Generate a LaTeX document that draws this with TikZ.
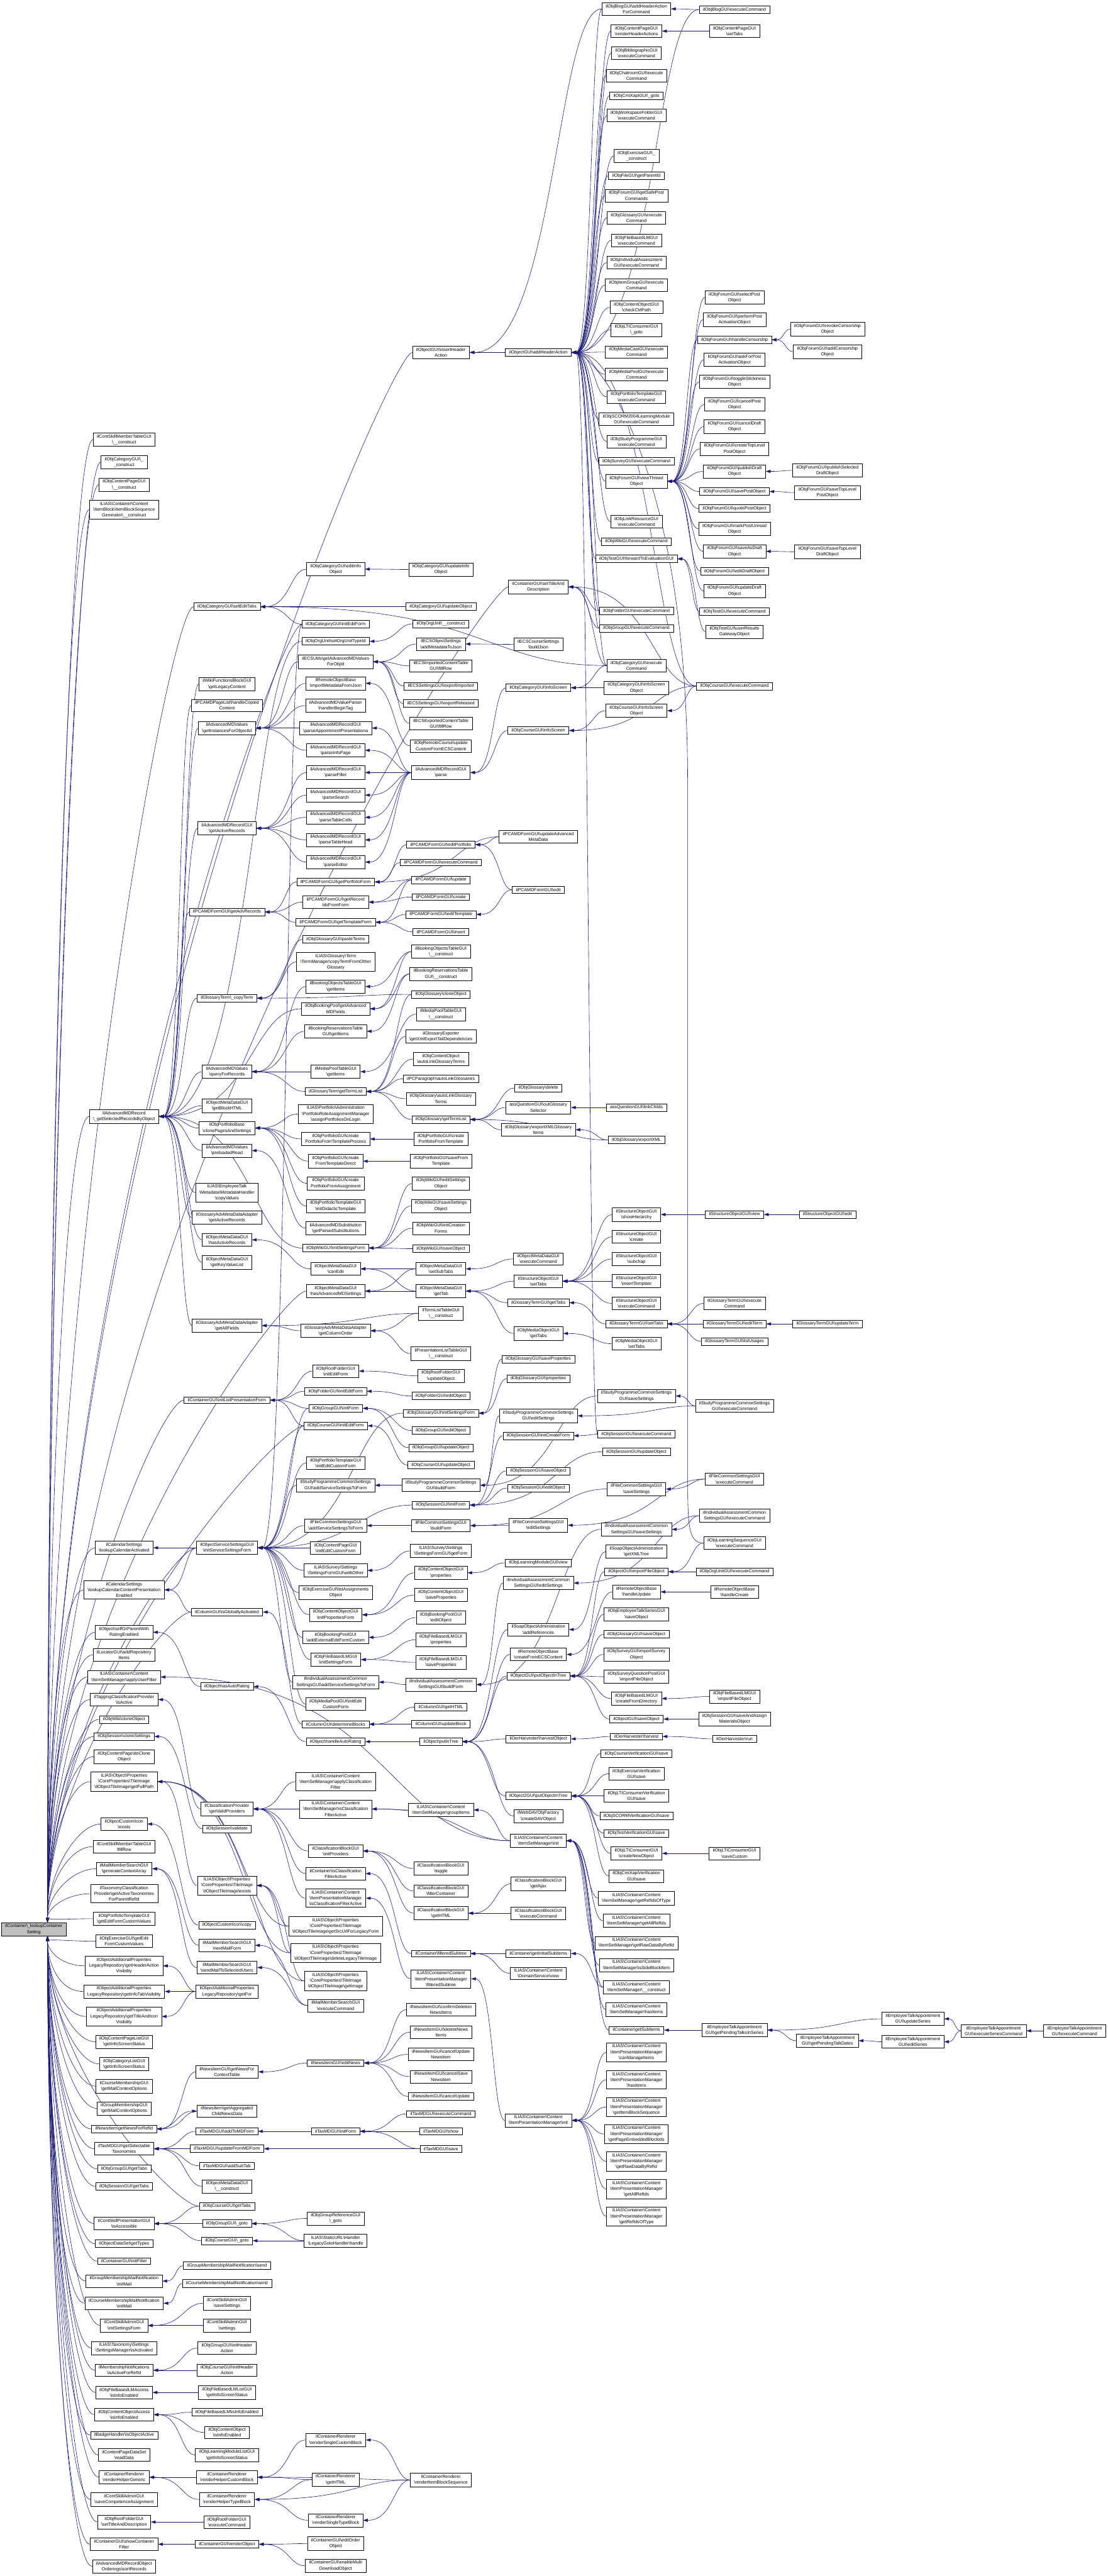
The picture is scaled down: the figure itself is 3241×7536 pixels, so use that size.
\documentclass[tikz,border=0pt]{standalone}
\usepackage{fontspec}
\setmainfont{Liberation Sans}
\usetikzlibrary{arrows.meta,calc}
\definecolor{mblue}{HTML}{191970}
\definecolor{rootgray}{HTML}{BFBFBF}
\newcommand\bsl{\textbackslash}
\newcommand\Nd[4]{\node[fn] (#1) at (#2,#3) {#4};}
\newcommand\Ed[2]{\draw[cedge] let \p1=(#1.west),\p2=(#2.east) in (\p1) .. controls ({0.65*\x1+0.35*\x2},\y1) and ({0.65*\x1+0.35*\x2},\y2) .. (\p2);}
\newcommand\Eu[1]{\draw[cedge] let \p1=(#1.west),\p2=(root.north) in (\p1) .. controls ({\x1-70pt},\y1) and ({\x2+40pt},{0.5*\y1+0.5*\y2}) .. ({\x2+40pt},\y2);}
\newcommand\Edn[1]{\draw[cedge] let \p1=(#1.west),\p2=(root.south) in (\p1) .. controls ({\x1-70pt},\y1) and ({\x2+40pt},{0.5*\y1+0.5*\y2}) .. ({\x2+40pt},\y2);}
\pgfdeclarelayer{bg}
\pgfdeclarelayer{edges}
\pgfsetlayers{bg,edges,main}
\tikzset{
  fn/.style={draw=black, line width=1.1pt, fill=white, align=center, inner xsep=11pt, inner ysep=5pt, font=\fontsize{13}{17}\selectfont},
  cedge/.style={draw=mblue, line width=1.1pt, -{Triangle[length=14pt,width=9pt]}}
}
\begin{document}
\begin{tikzpicture}[x=1pt,y=-1pt]
\begin{pgfonlayer}{bg}
\fill[white] (0,0) rectangle (3241,7536);
\end{pgfonlayer}
\useasboundingbox (0,0) rectangle (3241,7536);
% root
\node[fn,fill=rootgray] (root) at (99,5644) {ilContainer\bsl\_lookupContainer\\Setting};
% column A
\Nd{a1}{363}{1286}{ilContSkillMemberTableGUI\\\bsl\_\_construct}
\Nd{a2}{363}{1352}{ilObjCategoryGUI\bsl\_\\\_construct}
\Nd{a3}{363}{1418}{ilObjContentPageGUI\\\bsl\_\_construct}
\Nd{a4}{363}{1491}{ILIAS\bsl Container\bsl Content\\\bsl ItemBlock\bsl ItemBlockSequence\\Generator\bsl\_\_construct}
\Nd{a5}{363}{3266}{ilAdvancedMDRecord\\\bsl\_getSelectedRecordsByObject}
\Nd{a6}{363}{4528}{ilCalendarSettings\\\bsl lookupCalendarActivated}
\Nd{a7}{363}{4651}{ilCalendarSettings\\\bsl lookupCalendarContentPresentation\\Enabled}
\Nd{a8}{363}{4775}{ilObject\bsl selfOrParentWith\\RatingEnabled}
\Nd{a9}{363}{4841}{ilLocatorGUI\bsl addRepository\\Items}
\Nd{a10}{363}{4906}{ILIAS\bsl Container\bsl Content\\\bsl ItemSetManager\bsl applyUserFilter}
\Nd{a11}{363}{4972}{ilTaggingClassificationProvider\\\bsl isActive}
\Nd{a12}{363}{5030}{ilObjWiki\bsl cloneObject}
\Nd{a13}{363}{5080}{ilObjSession\bsl cloneSettings}
\Nd{a14}{363}{5139}{ilObjContentPage\bsl doClone\\Object}
\Nd{a15}{363}{5212}{ILIAS\bsl Object\bsl Properties\\\bsl CoreProperties\bsl TileImage\\\bsl ilObjectTileImage\bsl getFullPath}
\Nd{a16}{363}{5336}{ilObjectCustomIcon\\\bsl exists}
\Nd{a17}{363}{5402}{ilContSkillMemberTableGUI\\\bsl fillRow}
\Nd{a18}{363}{5467}{ilMailMemberSearchGUI\\\bsl generateContextArray}
\Nd{a19}{363}{5540}{ilTaxonomyClassification\\Provider\bsl getActiveTaxonomies\\ForParentRefId}
\Nd{a20}{363}{5613}{ilObjPortfolioTemplateGUI\\\bsl getEditFormCustomValues}
\Nd{a21}{363}{5679}{ilObjExerciseGUI\bsl getEdit\\FormCustomValues}
\Nd{a22}{363}{5751}{ilObjectAdditionalProperties\\LegacyRepository\bsl getHeaderAction\\Visibility}
\Nd{a23}{363}{5826}{ilObjectAdditionalProperties\\LegacyRepository\bsl getInfoTabVisibility}
\Nd{a24}{363}{5899}{ilObjectAdditionalProperties\\LegacyRepository\bsl getTitleAndIcon\\Visibility}
\Nd{a25}{363}{5973}{ilObjContentPageListGUI\\\bsl getInfoScreenStatus}
\Nd{a26}{363}{6038}{ilObjCategoryListGUI\\\bsl getInfoScreenStatus}
\Nd{a27}{363}{6103}{ilCourseMembershipGUI\\\bsl getMailContextOptions}
\Nd{a28}{363}{6168}{ilGroupMembershipGUI\\\bsl getMailContextOptions}
\Nd{a29}{363}{6228}{ilNewsItem\bsl getNewsForRefId}
\Nd{a30}{363}{6286}{ilTaxMDGUI\bsl getSelectable\\Taxonomies}
\Nd{a31}{363}{6345}{ilObjGroupGUI\bsl getTabs}
\Nd{a32}{363}{6396}{ilObjSessionGUI\bsl getTabs}
\Nd{a33}{363}{6505}{ilContSkillPresentationGUI\\\bsl isAccessible}
\Nd{a34}{363}{6564}{ilObjectDataSet\bsl getTypes}
\Nd{a35}{363}{6615}{ilContainerGUI\bsl initFilter}
\Nd{a36}{363}{6673}{ilGroupMembershipMailNotification\\\bsl initMail}
\Nd{a37}{363}{6738}{ilCourseMembershipMailNotification\\\bsl initMail}
\Nd{a38}{363}{6803}{ilContSkillAdminGUI\\\bsl initSettingsForm}
\Nd{a39}{363}{6869}{ILIAS\bsl Taxonomy\bsl Settings\\\bsl SettingsManager\bsl isActivated}
\Nd{a40}{363}{6934}{ilMembershipNotifications\\\bsl isActiveForRefId}
\Nd{a41}{363}{6999}{ilObjFileBasedLMAccess\\\bsl isInfoEnabled}
\Nd{a42}{363}{7064}{ilObjContentObjectAccess\\\bsl isInfoEnabled}
\Nd{a43}{363}{7124}{ilBadgeHandler\bsl isObjectActive}
\Nd{a44}{363}{7182}{ilContentPageDataSet\\\bsl readData}
\Nd{a45}{363}{7247}{ilContainerRenderer\\\bsl renderHelperGeneric}
\Nd{a46}{363}{7312}{ilContSkillAdminGUI\\\bsl saveCompetenceAssignment}
\Nd{a47}{363}{7378}{ilObjRootFolderGUI\\\bsl setTitleAndDescription}
\Nd{a48}{363}{7443}{ilContainerGUI\bsl showContainer\\Filter}
\Nd{a49}{363}{7508}{ilAdvancedMDRecordObject\\Orderings\bsl sortRecords}
% column B
\Nd{b1}{664}{1775}{ilObjCategoryGUI\bsl setEditTabs}
\Nd{b2}{664}{2001}{ilWikiFunctionsBlockGUI\\\bsl getLegacyContent}
\Nd{b3}{664}{2064}{ilPCAMDPageList\bsl handleCopied\\Content}
\Nd{b4}{664}{2130}{ilAdvancedMDValues\\\bsl getInstancesForObjectId}
\Nd{b5}{664}{2423}{ilAdvancedMDRecordGUI\\\bsl getActiveRecords}
\Nd{b6}{664}{2668}{ilPCAMDFormGUI\bsl getAdvRecords}
\Nd{b7}{664}{2920}{ilGlossaryTerm\bsl\_copyTerm}
\Nd{b8}{664}{3135}{ilAdvancedMDValues\\\bsl queryForRecords}
\Nd{b9}{664}{3235}{ilObjectMetaDataGUI\\\bsl getBlockHTML}
\Nd{b10}{664}{3300}{ilObjPortfolioBase\\\bsl clonePagesAndSettings}
\Nd{b11}{664}{3366}{ilAdvancedMDValues\\\bsl preloadedRead}
\Nd{b12}{664}{3489}{ILIAS\bsl EmployeeTalk\\\bsl Metadata\bsl MetadataHandler\\\bsl copyValues}
\Nd{b13}{664}{3562}{ilGlossaryAdvMetaDataAdapter\\\bsl getActiveRecords}
\Nd{b14}{664}{3627}{ilObjectMetaDataGUI\\\bsl hasActiveRecords}
\Nd{b15}{664}{3693}{ilObjectMetaDataGUI\\\bsl getKeyValueList}
\Nd{b16}{664}{3878}{ilGlossaryAdvMetaDataAdapter\\\bsl getAllFields}
\Nd{b17}{664}{4096}{ilContainerGUI\bsl initListPresentationForm}
\Nd{b18}{664}{4528}{ilObjectServiceSettingsGUI\\\bsl initServiceSettingsForm}
\Nd{b19}{664}{4716}{ilColumnGUI\bsl isGloballyActivated}
\Nd{b20}{664}{4934}{ilObject\bsl hasAutoRating}
\Nd{b21}{664}{5292}{ilClassificationProvider\\\bsl getValidProviders}
\Nd{b22}{664}{5350}{ilObjSession\bsl validate}
\Nd{b23}{664}{5516}{ILIAS\bsl Object\bsl Properties\\\bsl CoreProperties\bsl TileImage\\\bsl ilObjectTileImage\bsl exists}
\Nd{b24}{664}{5632}{ilObjectCustomIcon\bsl copy}
\Nd{b25}{664}{5691}{ilMailMemberSearchGUI\\\bsl nextMailForm}
\Nd{b26}{664}{5756}{ilMailMemberSearchGUI\\\bsl sendMailToSelectedUsers}
\Nd{b27}{664}{5826}{ilObjectAdditionalProperties\\LegacyRepository\bsl getFor}
\Nd{b28}{664}{6061}{ilNewsItemGUI\bsl getNewsFor\\ContextTable}
\Nd{b29}{664}{6176}{ilNewsItem\bsl getAggregated\\ChildNewsData}
\Nd{b30}{664}{6235}{ilTaxMDGUI\bsl addToMDForm}
\Nd{b31}{664}{6286}{ilTaxMDGUI\bsl updateFromMDForm}
\Nd{b32}{664}{6336}{ilTaxMDGUI\bsl addSubTab}
\Nd{b33}{664}{6396}{ilObjectMetaDataGUI\\\bsl\_\_construct}
\Nd{b34}{664}{6454}{ilObjCourseGUI\bsl getTabs}
\Nd{b35}{664}{6505}{ilObjGroupGUI\bsl\_goto}
\Nd{b36}{664}{6555}{ilObjCourseGUI\bsl\_goto}
\Nd{b37}{664}{6628}{ilGroupMembershipMailNotification\bsl send}
\Nd{b38}{664}{6680}{ilCourseMembershipMailNotification\bsl send}
\Nd{b39}{664}{6738}{ilContSkillAdminGUI\\\bsl saveSettings}
\Nd{b40}{664}{6803}{ilContSkillAdminGUI\\\bsl settings}
\Nd{b41}{664}{6869}{ilObjGroupGUI\bsl initHeader\\Action}
\Nd{b42}{664}{6934}{ilObjCourseGUI\bsl initHeader\\Action}
\Nd{b43}{664}{6999}{ilObjFileBasedLMListGUI\\\bsl getInfoScreenStatus}
\Nd{b44}{664}{7057}{ilObjFileBasedLM\bsl isInfoEnabled}
\Nd{b45}{664}{7116}{ilObjContentObject\\\bsl isInfoEnabled}
\Nd{b46}{664}{7182}{ilObjLearningModuleListGUI\\\bsl getInfoScreenStatus}
\Nd{b47}{664}{7247}{ilContainerRenderer\\\bsl renderHelperCustomBlock}
\Nd{b48}{664}{7312}{ilContainerRenderer\\\bsl renderHelperTypeBlock}
\Nd{b49}{664}{7378}{ilObjRootFolderGUI\\\bsl executeCommand}
\Nd{b50}{664}{7443}{ilContainerGUI\bsl renderObject}
% column C
\Nd{c1}{982}{1665}{ilObjCategoryGUI\bsl editInfo\\Object}
\Nd{c2}{982}{1826}{ilObjCategoryGUI\bsl initEditForm}
\Nd{c3}{982}{1876}{ilObjOrgUnit\bsl setOrgUnitTypeId}
\Nd{c4}{982}{1936}{ilECSUtils\bsl getAdvancedMDValues\\ForObjId}
\Nd{c5}{982}{1999}{ilRemoteObjectBase\\\bsl importMetadataFromJson}
\Nd{c6}{982}{2064}{ilAdvancedMDValueParser\\\bsl handlerBeginTag}
\Nd{c7}{982}{2130}{ilAdvancedMDRecordGUI\\\bsl parseAppointmentPresentationa}
\Nd{c8}{982}{2195}{ilAdvancedMDRecordGUI\\\bsl parseInfoPage}
\Nd{c9}{982}{2260}{ilAdvancedMDRecordGUI\\\bsl parseFilter}
\Nd{c10}{982}{2326}{ilAdvancedMDRecordGUI\\\bsl parseSearch}
\Nd{c11}{982}{2391}{ilAdvancedMDRecordGUI\\\bsl parseTableCells}
\Nd{c12}{982}{2457}{ilAdvancedMDRecordGUI\\\bsl parseTableHead}
\Nd{c13}{982}{2522}{ilAdvancedMDRecordGUI\\\bsl parseEditor}
\Nd{c14}{982}{2580}{ilPCAMDFormGUI\bsl getPortfolioForm}
\Nd{c15}{982}{2639}{ilPCAMDFormGUI\bsl getRecord\\IdsFromForm}
\Nd{c16}{982}{2698}{ilPCAMDFormGUI\bsl getTemplateForm}
\Nd{c17}{982}{2748}{ilObjGlossaryGUI\bsl pasteTerms}
\Nd{c18}{982}{2814}{ILIAS\bsl Glossary\bsl Term\\\bsl TermManager\bsl copyTermFromOther\\Glossary}
\Nd{c19}{982}{2886}{ilBookingObjectsTableGUI\\\bsl getItems}
\Nd{c20}{982}{2951}{ilObjBookingPool\bsl getAdvanced\\MDFields}
\Nd{c21}{982}{3017}{ilBookingReservationsTable\\GUI\bsl getItems}
\Nd{c22}{982}{3135}{ilMediaPoolTableGUI\\\bsl getItems}
\Nd{c23}{982}{3193}{ilGlossaryTerm\bsl getTermList}
\Nd{c24}{982}{3259}{ILIAS\bsl Portfolio\bsl Administration\\\bsl PortfolioRoleAssignmentManager\\\bsl assignPortfoliosOnLogin}
\Nd{c25}{982}{3332}{ilObjPortfolioGUI\bsl create\\PortfolioFromTemplateProcess}
\Nd{c26}{982}{3397}{ilObjPortfolioGUI\bsl create\\FromTemplateDirect}
\Nd{c27}{982}{3462}{ilObjPortfolioGUI\bsl create\\PortfolioFromAssignment}
\Nd{c28}{982}{3528}{ilObjPortfolioTemplateGUI\\\bsl initDidacticTemplate}
\Nd{c29}{982}{3593}{ilAdvancedMDSubstitution\\\bsl getParsedSubstitutions}
\Nd{c30}{982}{3651}{ilObjWikiGUI\bsl initSettingsForm}
\Nd{c31}{982}{3712}{ilObjectMetaDataGUI\\\bsl canEdit}
\Nd{c32}{982}{3777}{ilObjectMetaDataGUI\\\bsl hasAdvancedMDSettings}
\Nd{c33}{982}{3893}{ilGlossaryAdvMetaDataAdapter\\\bsl getColumnOrder}
\Nd{c34}{982}{4011}{ilObjRootFolderGUI\\\bsl initEditForm}
\Nd{c35}{982}{4070}{ilObjFolderGUI\bsl initEditForm}
\Nd{c36}{982}{4120}{ilObjGroupGUI\bsl initForm}
\Nd{c37}{982}{4171}{ilObjCourseGUI\bsl initEditForm}
\Nd{c38}{982}{4280}{ilObjPortfolioTemplateGUI\\\bsl initEditCustomForm}
\Nd{c39}{982}{4345}{ilStudyProgrammeCommonSettings\\GUI\bsl addServiceSettingsToForm}
\Nd{c40}{982}{4463}{ilFileCommonSettingsGUI\\\bsl addServiceSettingsToForm}
\Nd{c41}{982}{4528}{ilObjContentPageGUI\\\bsl initEditCustomForm}
\Nd{c42}{982}{4594}{ILIAS\bsl Survey\bsl Settings\\\bsl SettingsFormGUI\bsl withOther}
\Nd{c43}{982}{4659}{ilObjExerciseGUI\bsl listAssignments\\Object}
\Nd{c44}{982}{4724}{ilObjContentObjectGUI\\\bsl initPropertiesForm}
\Nd{c45}{982}{4790}{ilObjBookingPoolGUI\\\bsl addExternalEditFormCustom}
\Nd{c46}{982}{4855}{ilObjFileBasedLMGUI\\\bsl initSettingsForm}
\Nd{c47}{982}{4921}{ilIndividualAssessmentCommon\\SettingsGUI\bsl addServiceSettingsToForm}
\Nd{c48}{982}{4985}{ilObjMediaPoolGUI\bsl initEdit\\CustomForm}
\Nd{c49}{982}{5044}{ilColumnGUI\bsl determineBlocks}
\Nd{c50}{982}{5095}{ilObject\bsl handleAutoRating}
\Nd{c51}{982}{5212}{ILIAS\bsl Container\bsl Content\\\bsl ItemSetManager\bsl applyClassification\\Filter}
\Nd{c52}{982}{5292}{ILIAS\bsl Container\bsl Content\\\bsl ItemSetManager\bsl isClassification\\FilterActive}
\Nd{c53}{982}{5415}{ilClassificationBlockGUI\\\bsl initProviders}
\Nd{c54}{982}{5481}{ilContainer\bsl isClassification\\FilterActive}
\Nd{c55}{982}{5553}{ILIAS\bsl Container\bsl Content\\\bsl ItemPresentationManager\\\bsl isClassificationFilterActive}
\Nd{c56}{982}{5635}{ILIAS\bsl Object\bsl Properties\\\bsl CoreProperties\bsl TileImage\\\bsl ilObjectTileImage\bsl getSrcUrlForLegacyForm}
\Nd{c57}{982}{5713}{ILIAS\bsl Object\bsl Properties\\\bsl CoreProperties\bsl TileImage\\\bsl ilObjectTileImage\bsl deleteLegacyTileImage}
\Nd{c58}{982}{5795}{ILIAS\bsl Object\bsl Properties\\\bsl CoreProperties\bsl TileImage\\\bsl ilObjectTileImage\bsl getImage}
\Nd{c59}{982}{5867}{ilMailMemberSearchGUI\\\bsl executeCommand}
\Nd{c60}{982}{6035}{ilNewsItemGUI\bsl editNews}
\Nd{c61}{982}{6235}{ilTaxMDGUI\bsl initForm}
\Nd{c62}{982}{6490}{ilObjGroupReferenceGUI\\\bsl\_goto}
\Nd{c63}{982}{6555}{ILIAS\bsl StaticURL\bsl Handler\\\bsl LegacyGotoHandler\bsl handle}
\Nd{c64}{982}{7138}{ilContainerRenderer\\\bsl renderSingleCustomBlock}
\Nd{c65}{982}{7254}{ilContainerRenderer\\\bsl getHTML}
\Nd{c66}{982}{7373}{ilContainerRenderer\\\bsl renderSingleTypeBlock}
\Nd{c67}{982}{7441}{ilContainerGUI\bsl editOrder\\Object}
\Nd{c68}{982}{7506}{ilContainerGUI\bsl enableMulti\\DownloadObject}
% column D
\Nd{d1}{1290}{1031}{ilObjectGUI\bsl insertHeader\\Action}
\Nd{d2}{1290}{1666}{ilObjCategoryGUI\bsl updateInfo\\Object}
\Nd{d3}{1290}{1775}{ilObjCategoryGUI\bsl updateObject}
\Nd{d4}{1290}{1825}{ilObjOrgUnit\bsl\_\_construct}
\Nd{d5}{1290}{1884}{ilECSObjectSettings\\\bsl addMetadataToJson}
\Nd{d6}{1290}{1948}{ilECSImportedContentTable\\GUI\bsl fillRow}
\Nd{d7}{1290}{2007}{ilECSSettingsGUI\bsl exportImported}
\Nd{d8}{1290}{2058}{ilECSSettingsGUI\bsl exportReleased}
\Nd{d9}{1290}{2116}{ilECSExportedContentTable\\GUI\bsl fillRow}
\Nd{d10}{1290}{2182}{ilObjRemoteCourse\bsl update\\CustomFromECSContent}
\Nd{d11}{1290}{2260}{ilAdvancedMDRecordGUI\\\bsl parse}
\Nd{d12}{1290}{2471}{ilPCAMDFormGUI\bsl editPortfolio}
\Nd{d13}{1290}{2523}{ilPCAMDFormGUI\bsl executeCommand}
\Nd{d14}{1290}{2574}{ilPCAMDFormGUI\bsl update}
\Nd{d15}{1290}{2624}{ilPCAMDFormGUI\bsl create}
\Nd{d16}{1290}{2675}{ilPCAMDFormGUI\bsl editTemplate}
\Nd{d17}{1290}{2726}{ilPCAMDFormGUI\bsl insert}
\Nd{d18}{1290}{2784}{ilBookingObjectsTableGUI\\\bsl\_\_construct}
\Nd{d19}{1290}{2849}{ilBookingReservationsTable\\GUI\bsl\_\_construct}
\Nd{d20}{1290}{2909}{ilObjGlossary\bsl cloneObject}
\Nd{d21}{1290}{2967}{ilMediaPoolTableGUI\\\bsl\_\_construct}
\Nd{d22}{1290}{3032}{ilGlossaryExporter\\\bsl getXmlExportTailDependencies}
\Nd{d23}{1290}{3098}{ilObjContentObject\\\bsl autoLinkGlossaryTerms}
\Nd{d24}{1290}{3156}{ilPCParagraph\bsl autoLinkGlossaries}
\Nd{d25}{1290}{3214}{ilObjGlossary\bsl autoLinkGlossary\\Terms}
\Nd{d26}{1290}{3275}{ilObjGlossary\bsl getTermList}
\Nd{d27}{1290}{3332}{ilObjPortfolioGUI\bsl create\\PortfolioFromTemplate}
\Nd{d28}{1290}{3397}{ilObjPortfolioGUI\bsl saveFrom\\Template}
\Nd{d29}{1290}{3462}{ilObjWikiGUI\bsl editSettings\\Object}
\Nd{d30}{1290}{3528}{ilObjWikiGUI\bsl saveSettings\\Object}
\Nd{d31}{1290}{3593}{ilObjWikiGUI\bsl initCreation\\Forms}
\Nd{d32}{1290}{3653}{ilObjWikiGUI\bsl saveObject}
\Nd{d33}{1290}{3712}{ilObjectMetaDataGUI\\\bsl setSubTabs}
\Nd{d34}{1290}{3777}{ilObjectMetaDataGUI\\\bsl getTab}
\Nd{d35}{1290}{3842}{ilTermListTableGUI\\\bsl\_\_construct}
\Nd{d36}{1290}{3960}{ilPresentationListTableGUI\\\bsl\_\_construct}
\Nd{d37}{1290}{4025}{ilObjRootFolderGUI\\\bsl updateObject}
\Nd{d38}{1290}{4084}{ilObjFolderGUI\bsl editObject}
\Nd{d39}{1290}{4134}{ilObjGlossaryGUI\bsl initSettingsForm}
\Nd{d40}{1290}{4185}{ilObjGroupGUI\bsl editObject}
\Nd{d41}{1290}{4235}{ilObjGroupGUI\bsl updateObject}
\Nd{d42}{1290}{4286}{ilObjCourseGUI\bsl updateObject}
\Nd{d43}{1290}{4345}{ilStudyProgrammeCommonSettings\\GUI\bsl buildForm}
\Nd{d44}{1290}{4403}{ilObjSessionGUI\bsl initForm}
\Nd{d45}{1290}{4463}{ilFileCommonSettingsGUI\\\bsl buildForm}
\Nd{d46}{1290}{4537}{ILIAS\bsl Survey\bsl Settings\\\bsl SettingsFormGUI\bsl getForm}
\Nd{d47}{1290}{4601}{ilObjContentObjectGUI\\\bsl properties}
\Nd{d48}{1290}{4666}{ilObjContentObjectGUI\\\bsl saveProperties}
\Nd{d49}{1290}{4732}{ilObjBookingPoolGUI\\\bsl editObject}
\Nd{d50}{1290}{4797}{ilObjFileBasedLMGUI\\\bsl properties}
\Nd{d51}{1290}{4863}{ilObjFileBasedLMGUI\\\bsl saveProperties}
\Nd{d52}{1290}{4928}{ilIndividualAssessmentCommon\\SettingsGUI\bsl buildForm}
\Nd{d53}{1290}{4994}{ilColumnGUI\bsl getHTML}
\Nd{d54}{1290}{5044}{ilColumnGUI\bsl updateBlock}
\Nd{d55}{1290}{5095}{ilObject\bsl putInTree}
\Nd{d56}{1290}{5295}{ILIAS\bsl Container\bsl Content\\\bsl ItemSetManager\bsl groupItems}
\Nd{d57}{1290}{5466}{ilClassificationBlockGUI\\\bsl toggle}
\Nd{d58}{1290}{5532}{ilClassificationBlockGUI\\\bsl filterContainer}
\Nd{d59}{1290}{5597}{ilClassificationBlockGUI\\\bsl getHTML}
\Nd{d60}{1290}{5715}{ilContainer\bsl filteredSubtree}
\Nd{d61}{1290}{5789}{ILIAS\bsl Container\bsl Content\\\bsl ItemPresentationManager\\\bsl filteredSubtree}
\Nd{d62}{1290}{5879}{ilNewsItemGUI\bsl confirmDeletion\\NewsItems}
\Nd{d63}{1290}{5945}{ilNewsItemGUI\bsl deleteNews\\Items}
\Nd{d64}{1290}{6010}{ilNewsItemGUI\bsl cancelUpdate\\NewsItem}
\Nd{d65}{1290}{6075}{ilNewsItemGUI\bsl cancelSave\\NewsItem}
\Nd{d66}{1290}{6133}{ilNewsItemGUI\bsl cancelUpdate}
\Nd{d67}{1290}{6184}{ilTaxMDGUI\bsl executeCommand}
\Nd{d68}{1290}{6235}{ilTaxMDGUI\bsl show}
\Nd{d69}{1290}{6286}{ilTaxMDGUI\bsl save}
\Nd{d70}{1290}{7255}{ilContainerRenderer\\\bsl renderItemBlockSequence}
% column E
\Nd{e1}{1575}{1031}{ilObjectGUI\bsl addHeaderAction}
\Nd{e2}{1575}{1717}{ilContainerGUI\bsl setTitleAnd\\Description}
\Nd{e3}{1575}{1885}{ilECSCourseSettings\\\bsl buildJson}
\Nd{e4}{1575}{2012}{ilObjCategoryGUI\bsl infoScreen}
\Nd{e5}{1575}{2137}{ilObjCourseGUI\bsl infoScreen}
\Nd{e6}{1575}{2448}{ilPCAMDFormGUI\bsl updateAdvanced\\MetaData}
\Nd{e7}{1575}{2603}{ilPCAMDFormGUI\bsl edit}
\Nd{e8}{1575}{3183}{ilObjGlossary\bsl delete}
\Nd{e9}{1575}{3240}{assQuestionGUI\bsl outGlossary\\Selector}
\Nd{e10}{1575}{3305}{ilObjGlossary\bsl exportXMLGlossary\\Items}
\Nd{e11}{1575}{3683}{ilObjectMetaDataGUI\\\bsl executeCommand}
\Nd{e12}{1575}{3748}{ilStructureObjectGUI\\\bsl setTabs}
\Nd{e13}{1575}{3811}{ilGlossaryTermGUI\bsl getTabs}
\Nd{e14}{1575}{3901}{ilObjMediaObjectGUI\\\bsl getTabs}
\Nd{e15}{1575}{3976}{ilObjGlossaryGUI\bsl saveProperties}
\Nd{e16}{1575}{4033}{ilObjGlossaryGUI\bsl properties}
\Nd{e17}{1575}{4142}{ilStudyProgrammeCommonSettings\\GUI\bsl editSettings}
\Nd{e18}{1575}{4200}{ilObjSessionGUI\bsl initCreateForm}
\Nd{e19}{1575}{4303}{ilObjSessionGUI\bsl saveObject}
\Nd{e20}{1575}{4353}{ilObjSessionGUI\bsl editObject}
\Nd{e21}{1575}{4462}{ilFileCommonSettingsGUI\\\bsl editSettings}
\Nd{e22}{1575}{4572}{ilObjLearningModuleGUI\bsl view}
\Nd{e23}{1575}{4631}{ilIndividualAssessmentCommon\\SettingsGUI\bsl editSettings}
\Nd{e24}{1575}{4767}{ilSoapObjectAdministration\\\bsl addReferences}
\Nd{e25}{1575}{4840}{ilRemoteObjectBase\\\bsl createFromECSContent}
\Nd{e26}{1575}{4903}{ilObjectGUI\bsl putObjectInTree}
\Nd{e27}{1575}{5087}{ilOerHarvester\bsl harvestObject}
\Nd{e28}{1575}{5254}{ilObject2GUI\bsl putObjectInTree}
\Nd{e29}{1575}{5313}{ilWebDAVObjFactory\\\bsl createDAVObject}
\Nd{e30}{1575}{5385}{ILIAS\bsl Container\bsl Content\\\bsl ItemSetManager\bsl init}
\Nd{e31}{1575}{5511}{ilClassificationBlockGUI\\\bsl getAjax}
\Nd{e32}{1575}{5597}{ilClassificationBlockGUI\\\bsl executeCommand}
\Nd{e33}{1575}{5715}{ilContainer\bsl getInitialSubitems}
\Nd{e34}{1575}{5773}{ILIAS\bsl Container\bsl Content\\\bsl DomainService\bsl view}
\Nd{e35}{1575}{6203}{ILIAS\bsl Container\bsl Content\\\bsl ItemPresentationManager\bsl init}
% column F
\Nd{f1}{1862}{26}{ilObjBlogGUI\bsl addHeaderAction\\ForCommand}
\Nd{f2}{1862}{91}{ilObjContentPageGUI\\\bsl renderHeaderActions}
\Nd{f3}{1862}{155}{ilObjBibliographicGUI\\\bsl executeCommand}
\Nd{f4}{1862}{221}{ilObjChatroomGUI\bsl execute\\Command}
\Nd{f5}{1862}{280}{ilObjCmiXapiGUI\bsl\_goto}
\Nd{f6}{1862}{338}{ilObjWorkspaceFolderGUI\\\bsl executeCommand}
\Nd{f7}{1862}{456}{ilObjExerciseGUI\bsl\_\\\_construct}
\Nd{f8}{1862}{514}{ilObjFileGUI\bsl getParentId}
\Nd{f9}{1862}{572}{ilObjForumGUI\bsl getSafePost\\Commands}
\Nd{f10}{1862}{637}{ilObjGlossaryGUI\bsl execute\\Command}
\Nd{f11}{1862}{703}{ilObjFileBasedLMGUI\\\bsl executeCommand}
\Nd{f12}{1862}{768}{ilObjIndividualAssessment\\GUI\bsl executeCommand}
\Nd{f13}{1862}{834}{ilObjItemGroupGUI\bsl execute\\Command}
\Nd{f14}{1862}{899}{ilObjContentObjectGUI\\\bsl checkCtrlPath}
\Nd{f15}{1862}{965}{ilObjLTIConsumerGUI\\\bsl\_goto}
\Nd{f16}{1862}{1030}{ilObjMediaCastGUI\bsl execute\\Command}
\Nd{f17}{1862}{1095}{ilObjMediaPoolGUI\bsl execute\\Command}
\Nd{f18}{1862}{1161}{ilObjPortfolioTemplateGUI\\\bsl executeCommand}
\Nd{f19}{1862}{1226}{ilObjSCORM2004LearningModule\\GUI\bsl executeCommand}
\Nd{f20}{1862}{1292}{ilObjStudyProgrammeGUI\\\bsl executeCommand}
\Nd{f21}{1862}{1350}{ilObjSurveyGUI\bsl executeCommand}
\Nd{f22}{1862}{1408}{ilObjForumGUI\bsl viewThread\\Object}
\Nd{f23}{1862}{1526}{ilObjLinkResourceGUI\\\bsl executeCommand}
\Nd{f24}{1862}{1584}{ilObjWikiGUI\bsl executeCommand}
\Nd{f25}{1862}{1635}{ilObjTestGUI\bsl forwardToEvaluationGUI}
\Nd{f26}{1862}{1787}{ilObjFolderGUI\bsl executeCommand}
\Nd{f27}{1862}{1838}{ilObjGroupGUI\bsl executeCommand}
\Nd{f28}{1862}{1947}{ilObjCategoryGUI\bsl execute\\Command}
\Nd{f29}{1862}{2012}{ilObjCategoryGUI\bsl infoScreen\\Object}
\Nd{f30}{1862}{2079}{ilObjCourseGUI\bsl infoScreen\\Object}
\Nd{f31}{1862}{3240}{assQuestionGUI\bsl linkChilds}
\Nd{f32}{1862}{3335}{ilObjGlossary\bsl exportXML}
\Nd{f33}{1862}{3553}{ilStructureObjectGUI\\\bsl showHierarchy}
\Nd{f34}{1862}{3618}{ilStructureObjectGUI\\\bsl create}
\Nd{f35}{1862}{3683}{ilStructureObjectGUI\\\bsl subchap}
\Nd{f36}{1862}{3748}{ilStructureObjectGUI\\\bsl insertTemplate}
\Nd{f37}{1862}{3813}{ilStructureObjectGUI\\\bsl executeCommand}
\Nd{f38}{1862}{3873}{ilGlossaryTermGUI\bsl setTabs}
\Nd{f39}{1862}{3931}{ilObjMediaObjectGUI\\\bsl setTabs}
\Nd{f40}{1862}{4084}{ilStudyProgrammeCommonSettings\\GUI\bsl saveSettings}
\Nd{f41}{1862}{4196}{ilObjSessionGUI\bsl executeCommand}
\Nd{f42}{1862}{4247}{ilObjSessionGUI\bsl updateObject}
\Nd{f43}{1862}{4356}{ilFileCommonSettingsGUI\\\bsl saveSettings}
\Nd{f44}{1862}{4474}{ilIndividualAssessmentCommon\\SettingsGUI\bsl saveSettings}
\Nd{f45}{1862}{4539}{ilSoapObjectAdministration\\\bsl getXMLTree}
\Nd{f46}{1862}{4598}{ilObjectGUI\bsl importFileObject}
\Nd{f47}{1862}{4657}{ilRemoteObjectBase\\\bsl handleUpdate}
\Nd{f48}{1862}{4722}{ilObjEmployeeTalkSeriesGUI\\\bsl saveObject}
\Nd{f49}{1862}{4781}{ilObjGlossaryGUI\bsl saveObject}
\Nd{f50}{1862}{4840}{ilObjSurveyGUI\bsl importSurvey\\Object}
\Nd{f51}{1862}{4905}{ilObjSurveyQuestionPoolGUI\\\bsl importFileObject}
\Nd{f52}{1862}{4969}{ilObjFileBasedLMGUI\\\bsl createFromDirectory}
\Nd{f53}{1862}{5029}{ilObjectGUI\bsl saveObject}
\Nd{f54}{1862}{5080}{ilOerHarvester\bsl harvest}
\Nd{f55}{1862}{5130}{ilObjCourseVerificationGUI\bsl save}
\Nd{f56}{1862}{5189}{ilObjExerciseVerification\\GUI\bsl save}
\Nd{f57}{1862}{5254}{ilObjLTIConsumerVerification\\GUI\bsl save}
\Nd{f58}{1862}{5312}{ilObjSCORMVerificationGUI\bsl save}
\Nd{f59}{1862}{5363}{ilObjTestVerificationGUI\bsl save}
\Nd{f60}{1862}{5422}{ilObjLTIConsumerGUI\\\bsl createNewObject}
\Nd{f61}{1862}{5488}{ilObjCmiXapiVerification\\GUI\bsl save}
\Nd{f62}{1862}{5553}{ILIAS\bsl Container\bsl Content\\\bsl ItemSetManager\bsl getRefIdsOfType}
\Nd{f63}{1862}{5619}{ILIAS\bsl Container\bsl Content\\\bsl ItemSetManager\bsl getAllRefIds}
\Nd{f64}{1862}{5684}{ILIAS\bsl Container\bsl Content\\\bsl ItemSetManager\bsl getRawDataByRefId}
\Nd{f65}{1862}{5749}{ILIAS\bsl Container\bsl Content\\\bsl ItemSetManager\bsl isSideBlockItem}
\Nd{f66}{1862}{5814}{ILIAS\bsl Container\bsl Content\\\bsl ItemSetManager\bsl\_\_construct}
\Nd{f67}{1862}{5879}{ILIAS\bsl Container\bsl Content\\\bsl ItemSetManager\bsl hasItems}
\Nd{f68}{1862}{5939}{ilContainer\bsl getSubItems}
\Nd{f69}{1862}{6004}{ILIAS\bsl Container\bsl Content\\\bsl ItemPresentationManager\\\bsl canManageItems}
\Nd{f70}{1862}{6084}{ILIAS\bsl Container\bsl Content\\\bsl ItemPresentationManager\\\bsl hasItems}
\Nd{f71}{1862}{6164}{ILIAS\bsl Container\bsl Content\\\bsl ItemPresentationManager\\\bsl getItemBlockSequence}
\Nd{f72}{1862}{6243}{ILIAS\bsl Container\bsl Content\\\bsl ItemPresentationManager\\\bsl getPageEmbeddedBlockIds}
\Nd{f73}{1862}{6323}{ILIAS\bsl Container\bsl Content\\\bsl ItemPresentationManager\\\bsl getRawDataByRefId}
\Nd{f74}{1862}{6404}{ILIAS\bsl Container\bsl Content\\\bsl ItemPresentationManager\\\bsl getAllRefIds}
\Nd{f75}{1862}{6484}{ILIAS\bsl Container\bsl Content\\\bsl ItemPresentationManager\\\bsl getRefIdsOfType}
% column G
\Nd{g1}{2149}{28}{ilObjBlogGUI\bsl executeCommand}
\Nd{g2}{2149}{91}{ilObjContentPageGUI\\\bsl setTabs}
\Nd{g3}{2149}{870}{ilObjForumGUI\bsl selectPost\\Object}
\Nd{g4}{2149}{935}{ilObjForumGUI\bsl performPost\\ActivationObject}
\Nd{g5}{2149}{994}{ilObjForumGUI\bsl handleCensorship}
\Nd{g6}{2149}{1052}{ilObjForumGUI\bsl askForPost\\ActivationObject}
\Nd{g7}{2149}{1117}{ilObjForumGUI\bsl toggleStickiness\\Object}
\Nd{g8}{2149}{1183}{ilObjForumGUI\bsl cancelPost\\Object}
\Nd{g9}{2149}{1248}{ilObjForumGUI\bsl cancelDraft\\Object}
\Nd{g10}{2149}{1313}{ilObjForumGUI\bsl createTopLevel\\PostObject}
\Nd{g11}{2149}{1379}{ilObjForumGUI\bsl publishDraft\\Object}
\Nd{g12}{2149}{1438}{ilObjForumGUI\bsl savePostObject}
\Nd{g13}{2149}{1488}{ilObjForumGUI\bsl quotePostObject}
\Nd{g14}{2149}{1547}{ilObjForumGUI\bsl markPostUnread\\Object}
\Nd{g15}{2149}{1613}{ilObjForumGUI\bsl saveAsDraft\\Object}
\Nd{g16}{2149}{1671}{ilObjForumGUI\bsl editDraftObject}
\Nd{g17}{2149}{1729}{ilObjForumGUI\bsl updateDraft\\Object}
\Nd{g18}{2149}{1789}{ilObjTestGUI\bsl executeCommand}
\Nd{g19}{2149}{1848}{ilObjTestGUI\bsl userResults\\GatewayObject}
\Nd{g20}{2149}{2007}{ilObjCourseGUI\bsl executeCommand}
\Nd{g21}{2149}{3553}{ilStructureObjectGUI\bsl view}
\Nd{g22}{2149}{3813}{ilGlossaryTermGUI\bsl execute\\Command}
\Nd{g23}{2149}{3873}{ilGlossaryTermGUI\bsl editTerm}
\Nd{g24}{2149}{3924}{ilGlossaryTermGUI\bsl listUsages}
\Nd{g25}{2149}{4113}{ilStudyProgrammeCommonSettings\\GUI\bsl executeCommand}
\Nd{g26}{2149}{4327}{ilFileCommonSettingsGUI\\\bsl executeCommand}
\Nd{g27}{2149}{4434}{ilIndividualAssessmentCommon\\SettingsGUI\bsl executeCommand}
\Nd{g28}{2149}{4514}{ilObjLearningSequenceGUI\\\bsl executeCommand}
\Nd{g29}{2149}{4598}{ilObjOrgUnitGUI\bsl executeCommand}
\Nd{g30}{2149}{4657}{ilRemoteObjectBase\\\bsl handleCreate}
\Nd{g31}{2149}{4963}{ilObjFileBasedLMGUI\\\bsl importFileObject}
\Nd{g32}{2149}{5029}{ilObjSessionGUI\bsl saveAndAssign\\MaterialsObject}
\Nd{g33}{2149}{5087}{ilOerHarvester\bsl run}
\Nd{g34}{2149}{5422}{ilObjLTIConsumerGUI\\\bsl saveCustom}
\Nd{g35}{2149}{5939}{ilEmployeeTalkAppointment\\GUI\bsl getPendingTalksInSeries}
% columns H-K
\Nd{h1}{2421}{963}{ilObjForumGUI\bsl revokeCensorship\\Object}
\Nd{h2}{2421}{1029}{ilObjForumGUI\bsl addCensorship\\Object}
\Nd{h3}{2421}{1376}{ilObjForumGUI\bsl publishSelected\\DraftObject}
\Nd{h4}{2421}{1441}{ilObjForumGUI\bsl saveTopLevel\\PostObject}
\Nd{h5}{2421}{1614}{ilObjForumGUI\bsl saveTopLevel\\DraftObject}
\Nd{h6}{2421}{3553}{ilStructureObjectGUI\bsl edit}
\Nd{h7}{2421}{3873}{ilGlossaryTermGUI\bsl updateTerm}
\Nd{h8}{2421}{5970}{ilEmployeeTalkAppointment\\GUI\bsl getPendingTalkDates}
\Nd{i1}{2671}{5906}{ilEmployeeTalkAppointment\\GUI\bsl updateSeries}
\Nd{i2}{2671}{5973}{ilEmployeeTalkAppointment\\GUI\bsl editSeries}
\Nd{j1}{2907}{5941}{ilEmployeeTalkAppointment\\GUI\bsl executeSeriesCommand}
\Nd{k1}{3144}{5941}{ilEmployeeTalkAppointment\\GUI\bsl executeCommand}
% edges
\begin{pgfonlayer}{edges}
\foreach \q in {a1,a2,a3,a4,a5,a6,a7,a8,a9,a10,a11,a12,a13,a14,a15,a16,a17,a18,a19,a20,d1,e2,b1,c2,b17,b18,b19,c37,c32} {\Eu{\q}}
\foreach \q in {a21,a22,a23,a24,a25,a26,a27,a28,a29,a30,a31,a32,a33,a34,a35,a36,a37,a38,a39,a40,a41,a42,a43,a44,a45,a46,a47,a48,a49,b34} {\Edn{\q}}
\foreach \s/\t in {e1/d1,f1/d1,f1/e1,g1/f1,g1/e1,g2/f2,f2/e1,
 f3/e1,f4/e1,f5/e1,f6/e1,f7/e1,f8/e1,f9/e1,f10/e1,f11/e1,f12/e1,f13/e1,f14/e1,f15/e1,f16/e1,f17/e1,f18/e1,f19/e1,f20/e1,f21/e1,f22/e1,f23/e1,f24/e1,f25/e1,f26/e1,f27/e1,f28/e1,g20/e1,f41/e1,
 g3/f22,g4/f22,g5/f22,g6/f22,g7/f22,g8/f22,g9/f22,g10/f22,g11/f22,g12/f22,g13/f22,g14/f22,g15/f22,g16/f22,g17/f22,g18/f25,g19/f25,
 h1/g5,h2/g5,h3/g11,h4/g12,h5/g15,
 f26/e2,f27/e2,f28/e2,g20/e2,
 c1/b1,c2/b1,d3/b1,f28/b1,d2/c1,c2/b18,
 d4/c3,c3/a5,d5/c4,e3/d5,d6/c4,d7/c4,d8/c4,d9/c4,d10/c5,
 c4/b4,c5/b4,c6/b4,c7/b4,c8/b4,b4/a5,
 d11/c7,d11/c8,d11/c9,d11/c10,d11/c11,d11/c12,d11/c13,
 c9/b5,c10/b5,c11/b5,c12/b5,c13/b5,b5/a5,
 e4/d11,e5/d11,f28/e4,f29/e4,f30/e5,g20/e5,g20/f30,
 c14/b6,c15/b6,c16/b6,b6/a5,
 d12/c14,d13/c14,e6/c14,d14/c15,d15/c15,d16/c16,d17/c16,d14/c16,e6/d12,e7/d12,e7/d16,
 c17/b7,c18/b7,d20/b7,b7/a5,
 c19/b8,c21/b8,c22/b8,c23/b8,b8/a5,c20/a5,
 d18/c19,d18/c20,d19/c21,d19/c20,d21/c22,
 d20/c23,d22/c23,d23/c23,d24/c23,d25/c23,d26/c23,
 d35/c33,d36/c33,d35/b16,
 e8/d26,e9/d26,e10/d26,f32/d26,f31/e9,f32/e10,
 b2/a5,b3/a5,b9/a5,b10/a5,b11/a5,b12/a5,b13/a5,b14/a5,b15/a5,
 c24/b10,c25/b10,c26/b10,c27/b10,c28/b10,d27/c25,d28/c26,
 c29/b11,c31/b14,c30/a5,d29/c30,d30/c30,d31/c30,d32/c30,
 d33/c31,d34/c31,e11/d33,e12/d34,e13/d34,e14/d34,d34/c32,d33/c32,
 b16/a5,c33/b16,
 f33/e12,f34/e12,f35/e12,f36/e12,f37/e12,g21/f33,h6/g21,
 f38/e13,g22/f38,g23/f38,g24/f38,h7/g23,f39/e14,
 c34/b17,c35/b17,c36/b17,c37/b17,
 c36/b18,c37/b18,c38/b18,c39/b18,c40/b18,c41/b18,c42/b18,c43/b18,c44/b18,c45/b18,c46/b18,c47/b18,c48/b18,d44/b18,d39/b18,
 b18/a6,b18/a7,b19/a7,c49/b19,
 b20/a8,c50/b20,d55/c50,
 d37/c34,d38/c35,d40/c36,d41/c36,d42/c37,
 e15/d39,e16/d39,
 d43/c39,e17/d43,f40/d43,g25/f40,g25/e17,
 e18/d44,e19/d44,e20/d44,f42/d44,f41/e18,
 d45/c40,e21/d45,f43/d45,g26/e21,g26/f43,
 d46/c42,d47/c44,d48/c44,e22/d47,d49/c45,d50/c46,d51/c46,
 d52/c47,e23/d52,f44/d52,g27/e23,g27/f44,
 d53/c49,d54/c49,
 e24/d55,e25/d55,e26/d55,e27/d55,e28/d55,e29/d55,
 f45/e24,f47/e25,g30/f47,
 f46/e26,f48/e26,f49/e26,f50/e26,f51/e26,f52/e26,f53/e26,g28/f46,g29/f46,g31/f52,g32/f53,
 f54/e27,g33/f54,
 f55/e28,f56/e28,f57/e28,f58/e28,f59/e28,f60/e28,f61/e28,g34/f60,
 e30/d56,e30/a10,e30/c52,d56/c52,
 c51/b21,c52/b21,c53/b21,c54/b21,c55/b21,b21/a11,
 d57/c53,d58/c53,d59/c53,e31/d59,e32/d59,
 b22/a13,
 b23/a15,c56/a15,c57/a15,c58/a15,c56/b23,c57/b23,c58/b23,
 b24/a16,b25/a18,b26/a18,c59/b25,c59/b26,
 b27/a22,b27/a23,b27/a24,
 b28/a29,b29/a29,
 c60/b28,d62/c60,d63/c60,d64/c60,d65/c60,d66/c60,
 b30/a30,b31/a30,b32/a30,b33/a30,c61/b30,d67/c61,d68/c61,d69/c61,d69/b31,
 b34/a33,b35/a33,b36/a33,c62/b35,c63/b35,c63/b36,
 b37/a36,b38/a37,b39/a38,b40/a38,b41/a40,b42/a40,b43/a41,b44/a42,b45/a42,b46/a42,
 b47/a45,b48/a45,c64/b47,c65/b47,c65/b48,c66/b48,d70/b47,d70/b48,d70/c64,d70/c66,
 b49/a47,b50/a48,c67/b50,c68/b50,
 d60/c54,d61/c55,e33/d60,e34/d60,e35/d61,
 f62/e30,f63/e30,f64/e30,f65/e30,f66/e30,f67/e30,f68/e30,f66/e33,
 f69/e35,f70/e35,f71/e35,f72/e35,f73/e35,f74/e35,f75/e35,
 g35/f68,i1/g35,h8/g35,i2/h8,j1/i1,j1/i2,k1/j1} {\Ed{\s}{\t}}
\draw[cedge] let \p1=(a29.east),\p2=(b29.west) in (\p1) .. controls ({0.5*\x1+0.5*\x2},\y1) and ({0.5*\x1+0.5*\x2},\y2) .. (\p2);
\draw[cedge] (g28.west) .. controls (2012,4514) and (2012,4460) .. (2012,4300) -- (2012,2300) .. controls (2012,1300) and (1720,1031) .. (e1.east);
\end{pgfonlayer}
\end{tikzpicture}
\end{document}
